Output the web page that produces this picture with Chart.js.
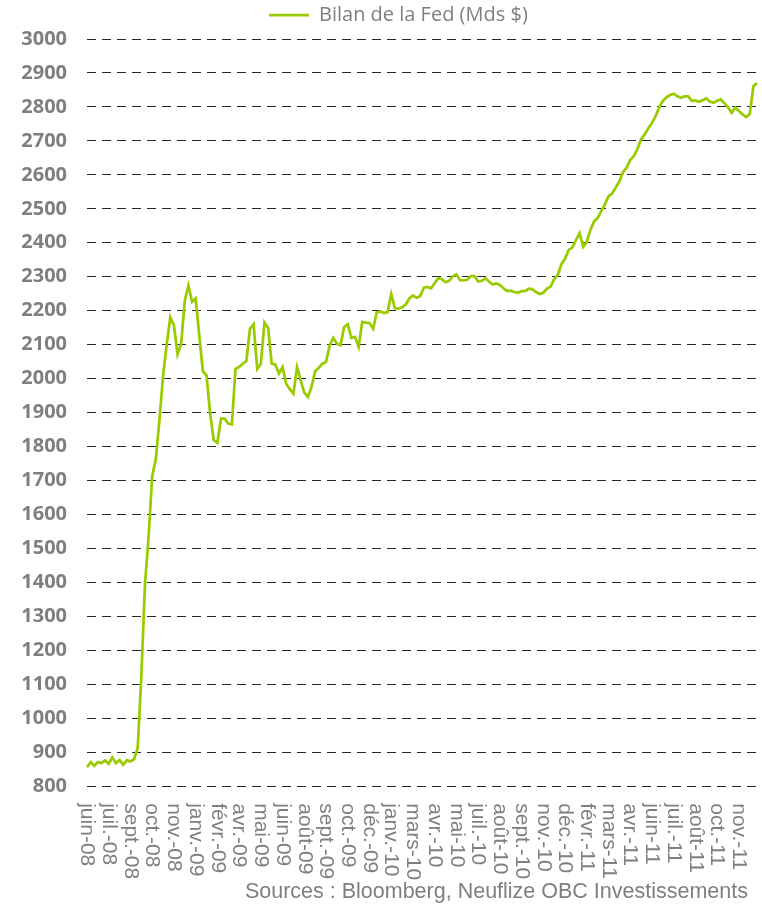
<!DOCTYPE html>
<html>
<head>
<meta charset="utf-8">
<script src="https://cdn.jsdelivr.net/npm/chart.js@4.4.1/dist/chart.umd.min.js"></script>
<style>
  html, body { margin: 0; padding: 0; background: #fff; }
  #wrap { width: 762px; height: 906px; }
</style>
</head>
<body>
<div id="wrap"><canvas id="chart" width="762" height="906"></canvas></div>
<script>
'use strict';

const seriesName = 'Bilan de la Fed (Mds $)';
const sourceText = 'Sources : Bloomberg, Neuflize OBC Investissements';

// weekly points, tick label every 6 weeks
const tickLabels = [
  'juin-08', 'juil.-08', 'sept.-08', 'oct.-08', 'nov.-08', 'janv.-09', 'févr.-09',
  'avr.-09', 'mai-09', 'juin-09', 'août-09', 'sept.-09', 'oct.-09', 'déc.-09',
  'janv.-10', 'mars-10', 'avr.-10', 'mai-10', 'juil.-10', 'août-10', 'sept.-10',
  'nov.-10', 'déc.-10', 'févr.-11', 'mars-11', 'avr.-11', 'juin-11', 'juil.-11',
  'août-11', 'oct.-11', 'nov.-11'
];
const tickEvery = 6;

const fedBalance = [
  856, 871, 860, 871, 868, 876, 866, 885, 868, 877,
  863, 876, 873, 880, 913, 1123, 1393, 1533, 1713, 1763,
  1878, 2008, 2100, 2181, 2157, 2072, 2103, 2230, 2274, 2226,
  2236, 2127, 2022, 2010, 1897, 1819, 1811, 1882, 1882, 1868,
  1865, 2029, 2034, 2044, 2052, 2147, 2160, 2029, 2044, 2165,
  2149, 2044, 2041, 2015, 2034, 1985, 1969, 1956, 2034, 1995,
  1959, 1946, 1976, 2022, 2032, 2044, 2049, 2098, 2120, 2103,
  2098, 2152, 2160, 2120, 2123, 2093, 2167, 2165, 2164, 2147,
  2195, 2198, 2193, 2196, 2249, 2208, 2206, 2210, 2218, 2236,
  2245, 2238, 2243, 2268, 2270, 2266, 2281, 2296, 2293, 2284,
  2288, 2301, 2307, 2290, 2289, 2291, 2302, 2302, 2286, 2288,
  2295, 2286, 2277, 2280, 2276, 2266, 2258, 2259, 2255, 2253,
  2258, 2258, 2265, 2263, 2255, 2249, 2253, 2265, 2271, 2293,
  2306, 2337, 2353, 2379, 2386, 2408, 2428, 2388, 2403, 2438,
  2463, 2473, 2493, 2513, 2537, 2545, 2563, 2581, 2608, 2621,
  2644, 2655, 2676, 2705, 2719, 2737, 2753, 2773, 2798, 2818,
  2828, 2835, 2839, 2831, 2827, 2831, 2831, 2818, 2819, 2815,
  2820, 2825, 2816, 2812, 2818, 2822, 2811, 2799, 2783, 2798,
  2788, 2778, 2770, 2779, 2861, 2870
];

// week dates (Wednesdays) starting 11 June 2008
const weeks = [];
for (let i = 0; i < fedBalance.length; i++) {
  const d = new Date(Date.UTC(2008, 5, 11 + 7 * i));
  weeks.push(d.toISOString().slice(0, 10));
}

const grey = '#7f7f7f';
const lime = '#99CC00';

// x labels read downwards in the original, so they are drawn here
const downLabels = {
  id: 'downLabels',
  beforeLayout(chart) {
    const lg = chart.legend;
    if (lg && !lg._padded) {
      const fit = lg.fit.bind(lg);
      lg.fit = function () { fit(); this.height += 4; };
      lg._padded = true;
    }
  },
  afterLayout(chart) {
    const lg = chart.legend;
    lg.left = 269 - lg.options.labels.padding;
    const sub = chart.boxes.find(b => b.options && b.options.text === sourceText);
    if (sub) sub.right = 748;
  },
  afterDraw(chart) {
    const xs = chart.scales.x;
    const ctx = chart.ctx;
    ctx.save();
    ctx.fillStyle = grey;
    ctx.font = '21px "Liberation Sans", Arial, sans-serif';
    ctx.textAlign = 'left';
    ctx.textBaseline = 'middle';
    weeks.forEach((w, i) => {
      if (i % tickEvery !== 0) return;
      const label = tickLabels[i / tickEvery];
      if (!label) return;
      ctx.save();
      ctx.translate(xs.getPixelForValue(i), chart.chartArea.bottom + 17);
      ctx.rotate(Math.PI / 2);
      ctx.fillText(label, 0, 0);
      ctx.restore();
    });
    ctx.restore();
  }
};

new Chart(document.getElementById('chart'), {
  type: 'line',
  data: {
    labels: weeks,
    datasets: [{
      label: seriesName,
      data: fedBalance,
      borderColor: lime,
      backgroundColor: lime,
      borderWidth: 2.75,
      pointRadius: 0,
      tension: 0
    }]
  },
  options: {
    responsive: false,
    animation: false,
    layout: { padding: { left: 0, right: 5, top: 1, bottom: 0 } },
    plugins: {
      legend: {
        position: 'top',
        align: 'start',
        labels: {
          usePointStyle: true,
          pointStyle: 'line',
          pointStyleWidth: 40,
          padding: 4,
          color: grey,
          font: { family: '"Open Sans", sans-serif', size: 20 }
        }
      },
      subtitle: {
        display: true,
        text: sourceText,
        position: 'bottom',
        align: 'end',
        color: grey,
        font: { family: '"Liberation Sans", Arial, sans-serif', size: 21.5, weight: 'normal' },
        padding: { top: 0, bottom: 1 }
      },
      tooltip: { enabled: false }
    },
    scales: {
      x: {
        type: 'category',
        offset: false,
        grid: { display: false },
        border: { display: false },
        ticks: { display: false },
        afterFit: (scale) => { scale.height = 93; }
      },
      y: {
        min: 800,
        max: 3000,
        ticks: {
          stepSize: 100,
          padding: 20,
          color: grey,
          font: { family: '"Open Sans", sans-serif', size: 20, weight: 'bold' },
          callback: (v) => String(v)
        },
        grid: { color: '#262626', lineWidth: 1, drawTicks: false },
        border: { display: false, dash: [9, 6] },
        afterFit: (scale) => { scale.width = 87; }
      }
    }
  },
  plugins: [downLabels]
});
</script>
</body>
</html>
